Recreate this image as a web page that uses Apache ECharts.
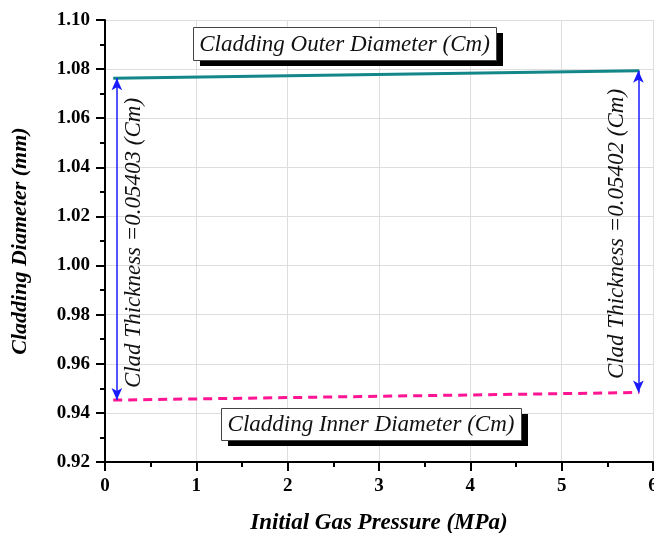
<!DOCTYPE html>
<html>
<head>
<meta charset="utf-8">
<script src="https://cdn.jsdelivr.net/npm/echarts@6/dist/echarts.min.js"></script>
<style>
  html, body { margin: 0; padding: 0; background: #fff; }
  #main { width: 654px; height: 533px; }
</style>
</head>
<body>
<div id="main"></div>
<script>
// pressure (MPa)
var pressure = [0.09, 5.85];
// diameters
var outerDiameter = [1.0763, 1.0793];
var innerDiameter = [0.9452, 0.9483];
// clad thickness arrows
var arrowX = [0.13, 5.84];
var thicknessLabels = ['Clad Thickness =0.05403 (Cm)', 'Clad Thickness =0.05402 (Cm)'];

var serif = '"Liberation Serif", "DejaVu Serif", serif';

var chart = echarts.init(document.getElementById('main'));

function pairs(xs, ys) {
    var out = [];
    for (var i = 0; i < xs.length; i++) out.push([xs[i], ys[i]]);
    return out;
}

var arrowLines = [];
for (var i = 0; i < arrowX.length; i++) {
    arrowLines.push([
        {coord: [arrowX[i], outerDiameter[i]]},
        {coord: [arrowX[i], innerDiameter[i]]}
    ]);
}

// boxed label with hard black shadow
function shadowBox(x, y, w, h, text) {
    return [
        {type: 'rect', left: x + 7, top: y + 6, shape: {width: w, height: h}, style: {fill: '#000'}, z: 10},
        {type: 'rect', left: x, top: y, shape: {width: w, height: h}, style: {fill: '#fff', stroke: '#444', lineWidth: 1}, z: 11},
        {type: 'text', x: x + w / 2, y: y + h / 2 + 1, z: 12,
            style: {text: text, fontFamily: serif, fontStyle: 'italic', fontSize: 23, fill: '#111', align: 'center', verticalAlign: 'middle'}}
    ];
}

var option = {
    animation: false,
    grid: {left: 105, right: 1, top: 20, bottom: 71, containLabel: false, outerBoundsMode: 'none'},
    xAxis: {
        type: 'value',
        min: 0,
        max: 6,
        interval: 1,
        name: 'Initial Gas Pressure (MPa)',
        nameLocation: 'middle',
        nameGap: 50,
        nameTextStyle: {fontFamily: serif, fontWeight: 'bold', fontStyle: 'italic', fontSize: 23, color: '#000'},
        axisLine: {lineStyle: {color: '#000', width: 2}},
        axisTick: {length: 9, lineStyle: {width: 2}},
        minorTick: {show: true, splitNumber: 2, length: 5, lineStyle: {color: '#000', width: 2}},
        axisLabel: {fontFamily: serif, fontWeight: 'bold', fontSize: 19, color: '#000', margin: 15},
        splitLine: {show: true, lineStyle: {color: '#ddd'}}
    },
    yAxis: {
        type: 'value',
        min: 0.92,
        max: 1.10,
        interval: 0.02,
        name: 'Cladding Diameter (mm)',
        nameLocation: 'middle',
        nameGap: 74,
        nameTextStyle: {fontFamily: serif, fontWeight: 'bold', fontStyle: 'italic', fontSize: 22, color: '#000'},
        axisLine: {lineStyle: {color: '#000', width: 2}},
        axisTick: {length: 9, lineStyle: {width: 2}},
        minorTick: {show: true, splitNumber: 2, length: 5, lineStyle: {color: '#000', width: 2}},
        axisLabel: {
            fontFamily: serif, fontWeight: 'bold', fontSize: 19, color: '#000', margin: 15,
            formatter: function (v) { return v.toFixed(2); }
        },
        splitLine: {show: true, lineStyle: {color: '#ddd'}}
    },
    series: [{
        name: 'Cladding Outer Diameter (Cm)',
        type: 'line',
        data: pairs(pressure, outerDiameter),
        showSymbol: false,
        lineStyle: {color: '#13868a', width: 3},
        z: 3
    }, {
        name: 'Cladding Inner Diameter (Cm)',
        type: 'line',
        data: pairs(pressure, innerDiameter),
        showSymbol: false,
        lineStyle: {color: '#ff1493', width: 3, type: [9, 6]},
        markLine: {
            silent: true,
            symbol: ['arrow', 'arrow'],
            symbolSize: [8, 12],
            lineStyle: {color: '#1a1aff', width: 1.5, type: 'solid'},
            label: {show: false},
            data: arrowLines
        },
        z: 3
    }],
    graphic: [].concat(
        shadowBox(193, 27, 303, 33, 'Cladding Outer Diameter (Cm)'),
        shadowBox(221, 408, 300, 32, 'Cladding Inner Diameter (Cm)'),
        [
            // rotated thickness labels
            {type: 'text', x: 134, y: 243, rotation: Math.PI / 2, z: 11,
                style: {text: thicknessLabels[0], fontFamily: serif, fontStyle: 'italic', fontSize: 23, fill: '#111', align: 'center', verticalAlign: 'middle'}},
            {type: 'text', x: 617, y: 234, rotation: Math.PI / 2, z: 11,
                style: {text: thicknessLabels[1], fontFamily: serif, fontStyle: 'italic', fontSize: 23, fill: '#111', align: 'center', verticalAlign: 'middle'}}
        ]
    )
};

chart.setOption(option);
</script>
</body>
</html>
